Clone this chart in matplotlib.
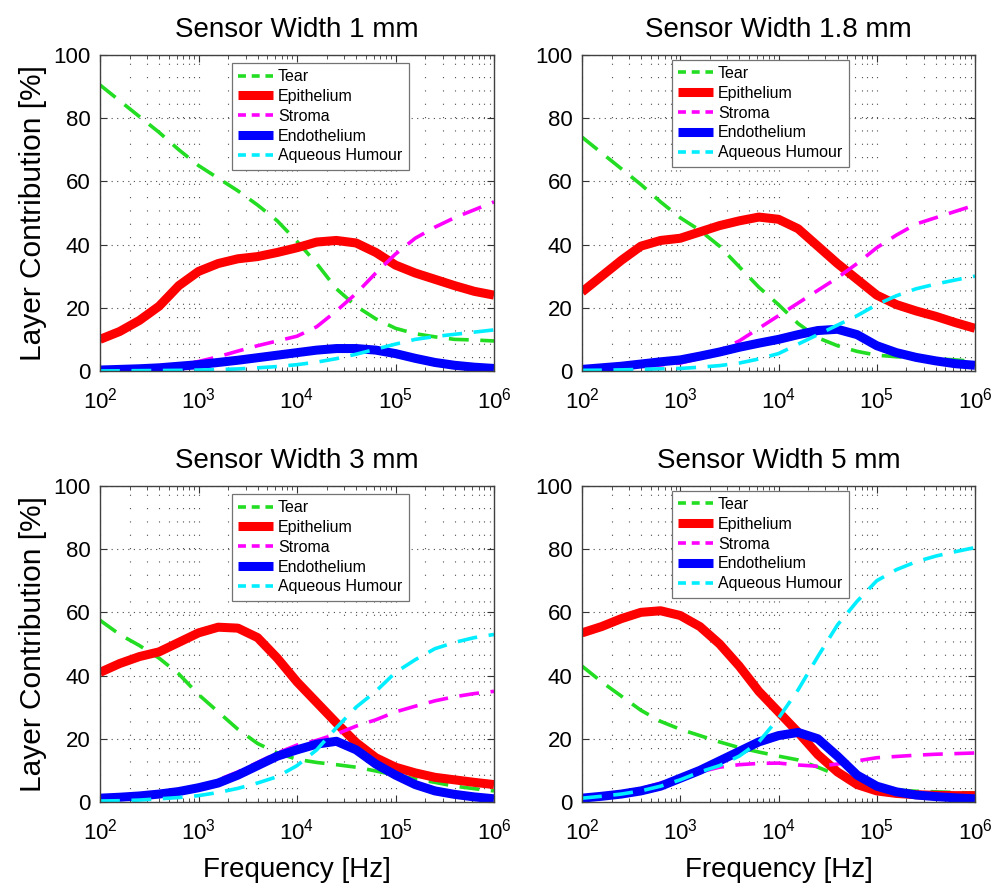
import numpy as np
import matplotlib
matplotlib.use("Agg")
import matplotlib.pyplot as plt
from matplotlib.lines import Line2D
from matplotlib.ticker import LogLocator, LogFormatterSciNotation

plt.rcParams['font.family'] = ['Liberation Sans', 'DejaVu Sans']
plt.rcParams['mathtext.fontset'] = 'custom'
plt.rcParams['mathtext.rm'] = 'Liberation Sans'
plt.rcParams['mathtext.it'] = 'Liberation Sans'
plt.rcParams['mathtext.default'] = 'regular'

# frequency sampling (log10 of Hz)
log_freq = [2.0, 2.2, 2.4, 2.6, 2.8, 3.0, 3.2, 3.4, 3.6, 3.8, 4.0,
            4.2, 4.4, 4.6, 4.8, 5.0, 5.2, 5.4, 5.6, 5.8, 6.0]

layers = ['Tear', 'Epithelium', 'Stroma', 'Endothelium', 'Aqueous Humour']
sensor_widths = ['1', '1.8', '3', '5']

# contribution [%] of each layer, sensor width 1 mm
tear_1 = [90.5, 85.5, 80.5, 75.5, 70, 65, 61, 57, 52.5, 47.5, 41,
          34, 26, 20.5, 16.5, 13.5, 11.8, 10.8, 10, 9.8, 9.5]
epi_1 = [10, 12.5, 16, 20.5, 27, 31.5, 34, 35.5, 36.2, 37.5, 39,
         40.8, 41.3, 40.5, 37.5, 33.5, 31, 29, 27, 25.2, 24]
stroma_1 = [0.5, 0.6, 0.8, 1.2, 2, 3, 4.5, 6.3, 8, 9.5, 11,
            14, 19, 24.5, 31, 37, 42, 45.5, 48.5, 51, 53.5]
endo_1 = [0.3, 0.5, 0.7, 1.0, 1.5, 2, 2.7, 3.4, 4.2, 5, 5.8,
          6.6, 7.1, 7.1, 6.6, 5.5, 4, 2.7, 1.8, 1.2, 0.8]
aq_1 = [0, 0.05, 0.1, 0.15, 0.2, 0.3, 0.45, 0.65, 1.0, 1.4, 2,
        2.8, 3.9, 5.3, 6.9, 8.5, 10, 10.9, 11.6, 12.3, 13]

# sensor width 1.8 mm
tear_18 = [74, 69, 64, 59, 53.5, 48.5, 44.5, 39.5, 33, 26.5, 21,
           15, 10.5, 8, 6.2, 5, 4.5, 4.2, 3.9, 3.5, 3]
epi_18 = [25, 30, 35, 39.5, 41.3, 42, 44, 46, 47.5, 48.7, 48,
          45, 39.5, 34, 29, 24, 21, 19, 17.3, 15.3, 13.5]
stroma_18 = [0.5, 0.7, 0.9, 1.3, 1.9, 2.5, 4, 6.5, 9.5, 13.5, 17.5,
             21.5, 25.5, 29.5, 34, 39, 43, 46.5, 48.5, 50.5, 52.5]
endo_18 = [0.5, 1, 1.5, 2.2, 2.9, 3.5, 4.7, 6, 7.5, 8.8, 10,
           11.5, 12.8, 13.2, 11.5, 8, 5.8, 4.3, 3.2, 2.3, 1.8]
aq_18 = [0.2, 0.25, 0.35, 0.5, 0.7, 0.8, 1.2, 1.7, 2.5, 3.8, 5.5,
         8.5, 11.5, 14.5, 17.5, 21, 23.8, 26, 27.5, 28.8, 30]

# sensor width 3 mm
tear_3 = [57.5, 53, 49.5, 45.5, 40.5, 34, 28.5, 23, 18.5, 15.5, 13.5,
          12.5, 11.8, 11, 9.8, 8.5, 7.3, 6.2, 5, 4.2, 3.5]
epi_3 = [41, 43.8, 46, 47.5, 50.5, 53.5, 55.3, 55, 52, 45.5, 38,
         31.5, 25, 18.8, 14, 11, 9.2, 7.8, 7, 6.2, 5.5]
stroma_3 = [0.5, 0.8, 1.2, 1.8, 2.8, 4.5, 7, 9.5, 12.5, 15.5, 18,
            19.5, 21.5, 24, 26, 28.5, 30.3, 32, 33.3, 34.3, 35]
endo_3 = [1.2, 1.5, 1.9, 2.5, 3.3, 4.5, 6, 8.5, 11.5, 14.5, 16.5,
          18.3, 19.2, 16.5, 12, 8.5, 5.5, 3.5, 2.4, 1.6, 1]
aq_3 = [0.3, 0.4, 0.6, 1, 1.4, 2, 3, 4.3, 6, 8, 11.5,
        16.5, 23.5, 30, 35, 41, 45, 48.5, 50.5, 52, 53]

# sensor width 5 mm
tear_5 = [43, 38, 33.5, 29, 25.5, 23, 21, 19, 17.2, 15.8, 14.5,
          13.3, 11, 8.5, 6, 4.5, 3.8, 3.4, 3.2, 3, 2.8]
epi_5 = [53.5, 55.5, 58, 60, 60.5, 59, 55.5, 50, 43, 35, 28.5,
         22, 15, 9.5, 5.5, 3.5, 2.7, 2.3, 2.1, 2, 2]
stroma_5 = [1.5, 2.2, 3, 4.2, 6, 8, 9.5, 11, 11.8, 12.2, 12.3,
            11.7, 11.3, 12, 13, 14, 14.4, 14.8, 15.1, 15.3, 15.5]
endo_5 = [1.2, 1.8, 2.5, 3.5, 5, 7.5, 10, 13, 16, 19, 21,
          22, 20, 14.5, 8.5, 5, 3.2, 2.2, 1.7, 1.3, 1]
aq_5 = [1.2, 1.8, 2.5, 3.5, 5, 7, 9.5, 11.5, 14.5, 19, 26.5,
        35.5, 46, 56, 63.5, 70, 73.5, 76, 77.8, 79.2, 80.5]

panels = [
    [tear_1, epi_1, stroma_1, endo_1, aq_1],
    [tear_18, epi_18, stroma_18, endo_18, aq_18],
    [tear_3, epi_3, stroma_3, endo_3, aq_3],
    [tear_5, epi_5, stroma_5, endo_5, aq_5],
]

colors = ['#22dd22', '#ff0000', '#ff00ff', '#0000ff', '#00eeff']
widths = [2.6, 6.5, 2.6, 6.5, 2.6]
dashed = [True, False, True, False, True]

freq = 10.0 ** np.array(log_freq)

fig = plt.figure(figsize=(9.94, 8.89), dpi=100)

# axes boxes [left, bottom, width, height] in figure fractions
boxes = [
    [0.1006, 0.5827, 0.3964, 0.3555],
    [0.5855, 0.5827, 0.3954, 0.3555],
    [0.1006, 0.0979, 0.3964, 0.3555],
    [0.5855, 0.0979, 0.3954, 0.3555],
]
legend_anchor = [(0.334, 0.975), (0.228, 0.985), (0.334, 0.975), (0.228, 0.985)]

for k, (box, series) in enumerate(zip(boxes, panels)):
    ax = fig.add_axes(box)
    for name, vals, c, lw, d in zip(layers, series, colors, widths, dashed):
        ls = (0, (5.5, 3.2)) if d else '-'
        ax.plot(freq, vals, color=c, lw=lw, ls=ls, solid_capstyle='butt',
                solid_joinstyle='round', label=name)

    ax.set_xscale('log')
    ax.set_xlim(1e2, 1e6)
    ax.set_ylim(0, 100)
    ax.xaxis.set_major_locator(LogLocator(base=10, numticks=10))
    ax.xaxis.set_minor_locator(LogLocator(base=10, subs=np.arange(2, 10), numticks=20))
    ax.xaxis.set_major_formatter(LogFormatterSciNotation())
    ax.set_yticks([0, 20, 40, 60, 80, 100])

    # dotted matlab-like grid
    ax.grid(True, which='both', axis='x', color='0.3', lw=0.8, ls=(0, (1, 11)))
    ax.grid(True, which='major', axis='y', color='0.3', lw=0.8, ls=(0, (1, 4)))

    ax.tick_params(which='both', direction='in', top=True, right=True,
                   color='0.2', labelsize=16)
    ax.tick_params(which='major', length=5, width=0.8)
    ax.tick_params(which='minor', length=3, width=0.6)
    ax.tick_params(axis='x', pad=12)
    ax.tick_params(axis='y', pad=7)
    for sp in ax.spines.values():
        sp.set_color('0.25')
        sp.set_linewidth(1.0)

    ax.set_title('Sensor Width %s mm' % sensor_widths[k], fontsize=20, pad=13)
    if k % 2 == 0:
        ax.set_ylabel('Layer Contribution [%]', fontsize=21.5, labelpad=4)
    if k >= 2:
        ax.set_xlabel('Frequency [Hz]', fontsize=20, labelpad=9)

    # legend proxies with shorter dashes
    handles = [Line2D([], [], color=c, lw=lw, ls=((0, (2.2, 1.6)) if d else '-'),
                      solid_capstyle='butt')
               for c, lw, d in zip(colors, widths, dashed)]
    leg = ax.legend(handles, layers, loc='upper left', bbox_to_anchor=legend_anchor[k],
                    fontsize=11.5, frameon=True, fancybox=False, framealpha=1,
                    edgecolor='0.45', handlelength=2.2, handletextpad=0.3,
                    labelspacing=0.3, borderpad=0.4, borderaxespad=0)
    leg.get_frame().set_linewidth(0.9)

fig.savefig('out.png', dpi=100)
